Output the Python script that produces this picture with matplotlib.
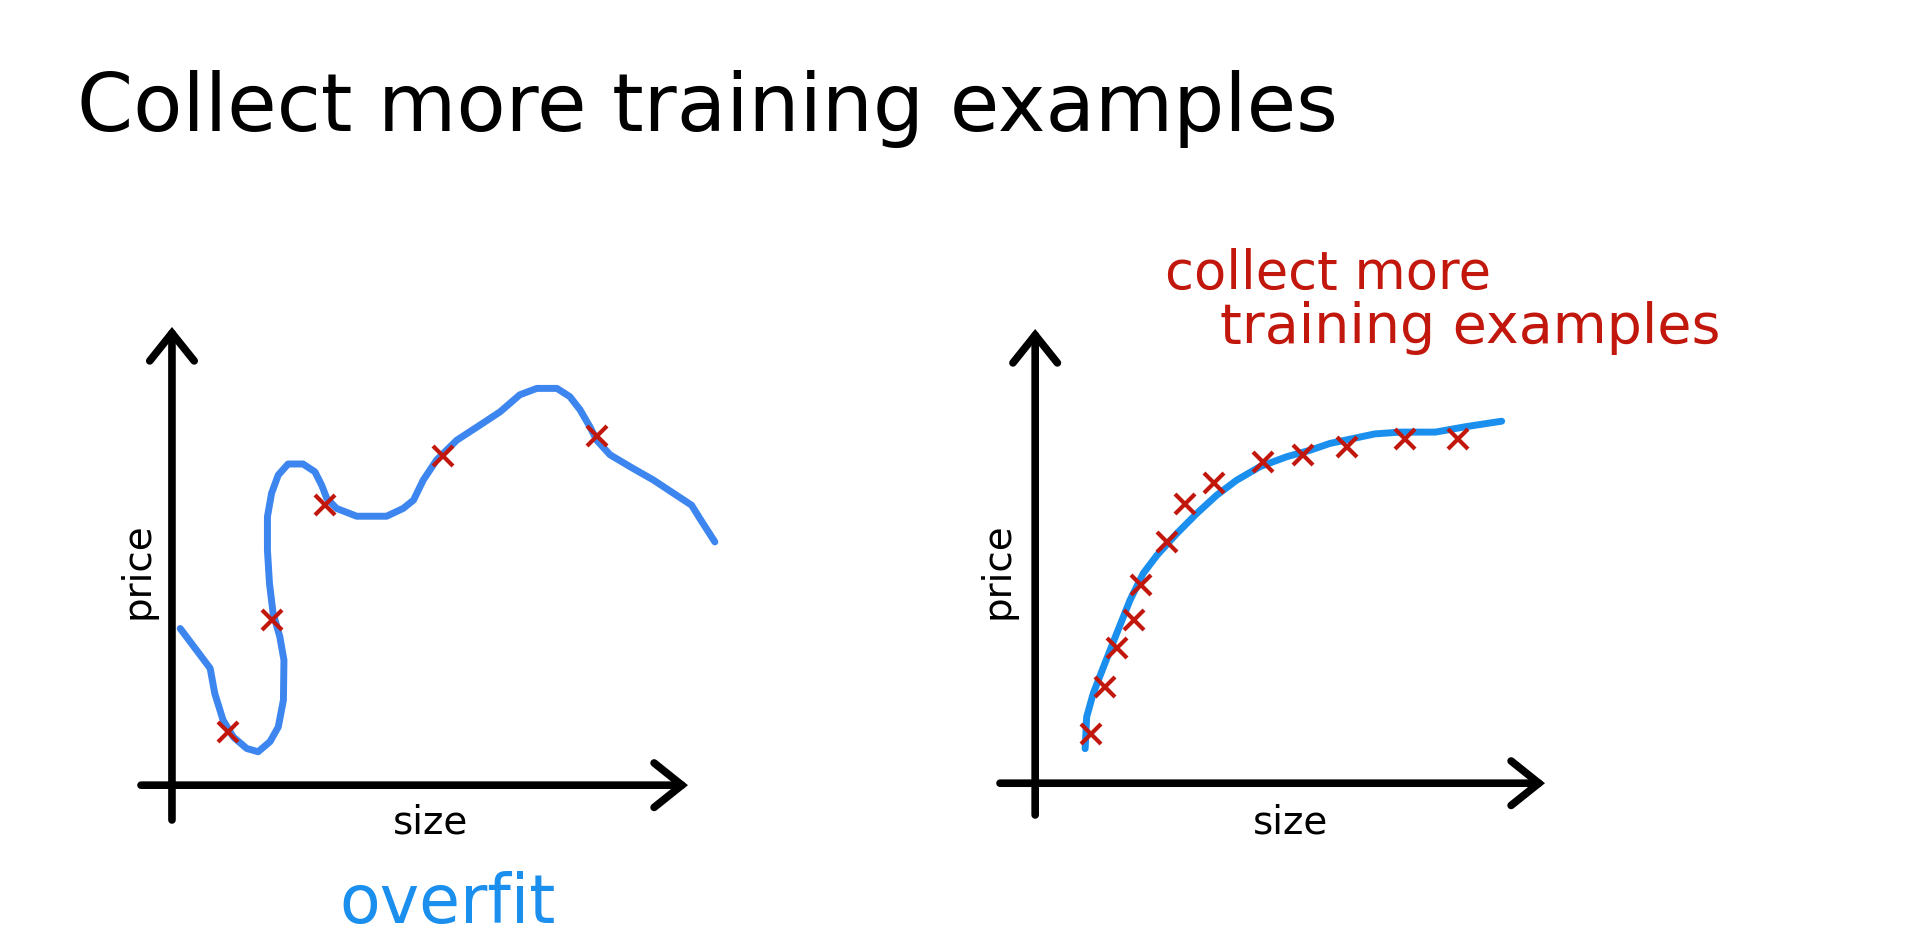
import numpy as np
import matplotlib
matplotlib.use('Agg')
import matplotlib.pyplot as plt

# left panel: wiggly overfit curve + 5 training points
over_x = [0.16, 0.74, 0.83, 0.99, 1.19, 1.45, 1.67, 1.90, 2.06, 2.16, 2.17, 2.09, 1.96, 1.89, 1.85,
          1.85, 1.93, 2.06, 2.25, 2.54, 2.77, 2.90, 3.00, 3.19, 3.58, 4.16, 4.48, 4.68, 4.87, 5.13,
          5.52, 5.97, 6.36, 6.74, 7.07, 7.46, 7.71, 7.91, 8.10, 8.23, 8.49, 8.94, 9.33, 9.72,
          10.07, 10.23, 10.52]
over_y = [3.42, 2.55, 2.00, 1.42, 1.05, 0.80, 0.73, 0.95, 1.27, 1.86, 2.73, 3.24, 3.75, 4.40, 5.13,
          5.86, 6.37, 6.77, 7.01, 7.01, 6.84, 6.55, 6.26, 6.04, 5.87, 5.87, 6.04, 6.22, 6.66, 7.10,
          7.53, 7.86, 8.15, 8.52, 8.66, 8.66, 8.48, 8.19, 7.82, 7.53, 7.21, 6.91, 6.66, 6.37,
          6.11, 5.82, 5.31]
pts_left_x = [1.09, 1.93, 2.97, 5.26, 8.23]
pts_left_y = [1.16, 3.60, 6.11, 7.18, 7.62]

# right panel: smooth fit + many training points
fit_x = [0.98, 1.01, 1.14, 1.34, 1.60, 1.86, 2.12, 2.39, 2.78, 3.17, 3.56, 3.95, 4.41, 4.94, 5.39,
         5.78, 6.66, 7.16, 7.85, 8.45, 9.15]
fit_y = [0.76, 1.46, 1.98, 2.56, 3.30, 4.03, 4.62, 5.02, 5.50, 5.94, 6.34, 6.67, 6.97, 7.19, 7.33,
         7.48, 7.69, 7.73, 7.73, 7.85, 7.97]
pts_right_x = [1.09, 1.36, 1.60, 1.93, 2.08, 2.58, 2.94, 3.51, 4.46, 5.26, 6.11, 7.26, 8.30]
pts_right_y = [1.09, 2.11, 2.97, 3.59, 4.36, 5.31, 6.15, 6.60, 7.08, 7.22, 7.41, 7.57, 7.57]

W, H = 1913, 952
fig = plt.figure(figsize=(W / 100, H / 100), dpi=100)
fig.patch.set_facecolor('white')

RED = '#c2170c'


def fx(px):
    return px / W


def fy(py):
    return 1 - py / H


def make_panel(left, right, top, bottom, xmin, ymin):
    # left/right/top/bottom in pixels; axis arrows run from (xmin..10) and (ymin..10)
    ax = fig.add_axes([fx(left), fy(bottom), fx(right) - fx(left), fy(top) - fy(bottom)])
    ax.set_xlim(xmin, 10)
    ax.set_ylim(ymin, 10)
    ax.axis('off')
    style = '->,head_length=1.0,head_width=0.8'
    ax.annotate('', xy=(10, 0), xytext=(xmin, 0),
                arrowprops=dict(arrowstyle=style, lw=5.5, color='black', mutation_scale=20,
                                shrinkA=0, shrinkB=0, joinstyle='miter'))
    ax.annotate('', xy=(0, 10), xytext=(0, ymin),
                arrowprops=dict(arrowstyle=style, lw=5.5, color='black', mutation_scale=20,
                                shrinkA=0, shrinkB=0, joinstyle='miter'))
    return ax


ax1 = make_panel(141, 688, 327, 820, -0.6, -0.76)
ax1.plot(over_x, over_y, color='#3d86ef', lw=5, solid_capstyle='round',
         solid_joinstyle='round', clip_on=False, zorder=3)
ax1.plot(pts_left_x, pts_left_y, 'x', color=RED, ms=14, mew=3, clip_on=False, zorder=4)

ax2 = make_panel(1000, 1545, 329, 815, -0.69, -0.70)
ax2.plot(fit_x, fit_y, color='#1a8fee', lw=5, solid_capstyle='round',
         solid_joinstyle='round', clip_on=False, zorder=3)
ax2.plot(pts_right_x, pts_right_y, 'x', color=RED, ms=14, mew=3, clip_on=False, zorder=4)

# texts
fig.text(fx(77), fy(131), 'Collect more training examples', fontsize=58,
         ha='left', va='baseline', color='black')
for cx in (138, 998):
    fig.text(fx(cx), fy(571), 'price', fontsize=28, rotation=90, ha='center', va='center')
for cx in (431, 1291):
    fig.text(fx(cx), fy(822), 'size', fontsize=28, ha='center', va='center')

fig.text(fx(1165), fy(289), 'collect more', fontsize=38, color=RED, ha='left', va='baseline')
fig.text(fx(1220), fy(343), 'training examples', fontsize=40, color=RED, ha='left', va='baseline')
fig.text(fx(339), fy(923), 'overfit', fontsize=48, color='#1a8fee', ha='left', va='baseline')

fig.savefig('out.png', dpi=100, facecolor='white')
